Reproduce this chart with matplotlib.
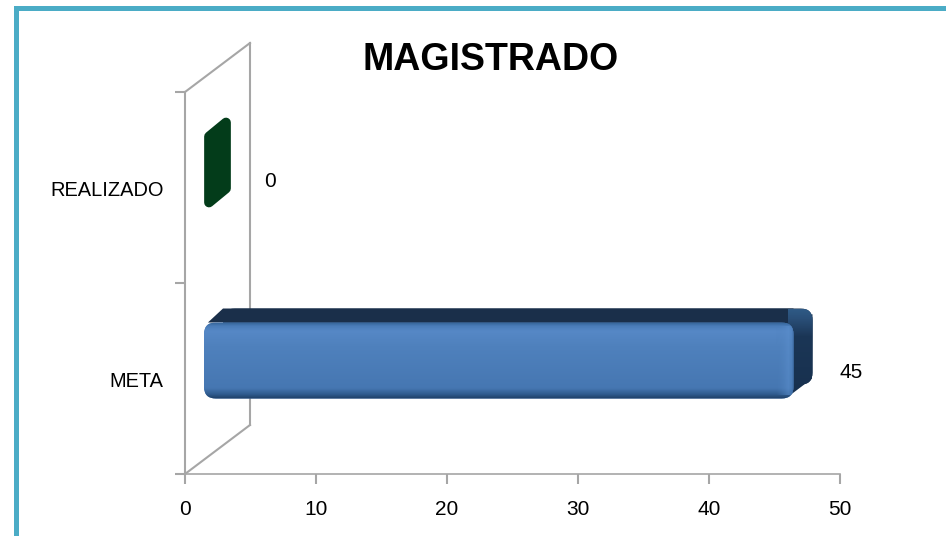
import numpy as np
import matplotlib
matplotlib.use("Agg")
import matplotlib.pyplot as plt
from matplotlib.colors import LinearSegmentedColormap
from matplotlib.patches import FancyBboxPatch, Polygon, Rectangle

plt.rcParams['font.family'] = ['Liberation Sans', 'DejaVu Sans']

categories = ["META", "REALIZADO"]
values = [45, 0]
x_ticks = [0, 10, 20, 30, 40, 50]
title = "MAGISTRADO"

W, H = 946, 536
fig = plt.figure(figsize=(W / 100, H / 100), dpi=100, facecolor="white")

# frame round the picture, in pixels
bg = fig.add_axes([0, 0, 1, 1])
bg.set_xlim(0, W)
bg.set_ylim(H, 0)
bg.axis("off")
bg.add_patch(Rectangle((14, 6), 5, H - 6, color="#4bacc6", lw=0))
bg.add_patch(Rectangle((14, 6), W - 14, 5, color="#4bacc6", lw=0))

# plot area 185..840 px wide, 92..474 px tall
L, R, T, B = 185, 840, 92, 474
ax = fig.add_axes([L / W, 1 - B / H, (R - L) / W, (B - T) / H])
ax.set_xlim(0, 50)
ax.set_ylim(0, 2)
ax.patch.set_alpha(0)
px_x = (R - L) / 50
px_y = (B - T) / 2

grey = "#a6a6a6"
for s in ["top", "right"]:
    ax.spines[s].set_visible(False)
for s in ["left", "bottom"]:
    ax.spines[s].set_color(grey)
    ax.spines[s].set_linewidth(1.5)
ax.spines["bottom"].set_linewidth(1.2)
ax.set_xticks(x_ticks)
ax.set_yticks([0, 1, 2])
ax.set_yticklabels([])
ax.tick_params(axis="both", color=grey, width=1.5, length=7, labelsize=15,
               labelcolor="black", pad=12)

# depth of the back wall
dx = 65 / px_x
dy = 49 / px_y
wall = dict(color=grey, lw=1.5, clip_on=False, zorder=1)
ax.plot([0, dx], [0, dy], **wall)
ax.plot([0, dx], [2, 2 + dy], **wall)
ax.plot([dx, dx], [dy, 2 + dy], **wall)

# bar geometry
x0 = 19 / px_x
off_x = 19 / px_x
off_y = 14 / px_y
bar_h = 76 / px_y
min_w = 8 / px_x
asp = px_x / px_y


def round_box(x, y, w, h, r, **kw):
    return FancyBboxPatch((x, y), w, h, boxstyle=f"round,pad=0,rounding_size={r}",
                          mutation_aspect=asp, **kw)


front_cmap = LinearSegmentedColormap.from_list(
    "front", [(0, "#1f3f66"), (0.05, "#2f5a8c"), (0.14, "#4677b2"), (0.7, "#4f81bd"),
              (0.9, "#5688c6"), (0.97, "#4a7cb8"), (1, "#3a6aa0")])
side_cmap = LinearSegmentedColormap.from_list(
    "side", [(0, "#17304e"), (0.7, "#1b3656"), (0.9, "#2a4f78"), (1, "#2f5a85")])
end_cmap = LinearSegmentedColormap.from_list(
    "end", [(0, "#4f81bd00"), (0.7, "#5a8ecc99"), (0.9, "#4f81bd80"), (1, "#2f5a8cc0")])

for i, (cat, val) in enumerate(zip(categories, values)):
    y_mid = i + 0.5 + 18 / px_y
    y0 = y_mid - bar_h / 2
    ax.text(-1.65, i + 0.5 - 0.015, cat, ha="right", va="center", fontsize=14.4, color="black")
    if val == 0:
        # empty bar still shows as a thin dark block
        ix = 5 / px_x
        iy = 5 / px_y
        w = off_x + min_w
        pts = [(x0 + ix, y0 + iy), (x0 + w - ix, y0 + off_y + iy),
               (x0 + w - ix, y0 + bar_h + off_y - iy), (x0 + ix, y0 + bar_h - iy)]
        ax.add_patch(Polygon(pts, closed=True, facecolor="#033c1a", edgecolor="#033c1a",
                             lw=7, joinstyle="round", zorder=2))
        ax.text(6.5, i + 0.5 + 0.03, str(val), ha="center", va="center", fontsize=15)
        continue
    # back block, top face and side face
    back = round_box(x0 + off_x, y0 + off_y, val, bar_h, 0.9,
                     facecolor="#17304e", edgecolor="none", zorder=2)
    ax.add_patch(back)
    ax.add_patch(Polygon([(x0 + 0.3, y0 + bar_h), (x0 + off_x, y0 + bar_h + off_y),
                          (x0 + val, y0 + bar_h + off_y), (x0 + val, y0 + bar_h)],
                         closed=True, facecolor="#1a2f4a", edgecolor="none", zorder=2))
    ax.add_patch(Polygon([(x0 + val - 0.4, y0 + 0.01), (x0 + val + off_x - 0.05, y0 + off_y + 0.03),
                          (x0 + val + off_x, y0 + bar_h + off_y - 0.03),
                          (x0 + val - 0.4, y0 + bar_h)],
                         closed=True, facecolor="#17304e", edgecolor="none", zorder=2))
    side_im = ax.imshow(np.linspace(0, 1, 80).reshape(-1, 1),
                        extent=(x0 + val - 0.4, x0 + val + off_x, y0, y0 + bar_h + off_y),
                        origin="lower", cmap=side_cmap, aspect="auto", zorder=2.5)
    side_im.set_clip_path(back)
    # front face with a vertical gradient and a lighter end strip
    front = round_box(x0, y0, val, bar_h, 0.9, facecolor="#4f81bd", edgecolor="none", zorder=3)
    ax.add_patch(front)
    im = ax.imshow(np.linspace(0, 1, 80).reshape(-1, 1), extent=(x0, x0 + val, y0, y0 + bar_h),
                   origin="lower", cmap=front_cmap, aspect="auto", zorder=3.1)
    im.set_clip_path(front)
    strip = ax.imshow(np.linspace(0, 1, 30).reshape(1, -1),
                      extent=(x0 + val - 1.3, x0 + val, y0 + 0.02, y0 + bar_h - 0.02),
                      origin="lower", cmap=end_cmap, aspect="auto", zorder=3.2)
    strip.set_clip_path(front)
    ax.text(x0 + val + off_x + 2.05, i + 0.5 + 0.03, str(val), ha="left", va="center", fontsize=15)

ax.set_xlim(0, 50)
ax.set_ylim(0, 2)

fig.text(491 / W, 1 - 60 / H, title, ha="center", va="center", fontsize=27,
         fontweight="bold", color="black")

fig.savefig("out.png", dpi=100)
